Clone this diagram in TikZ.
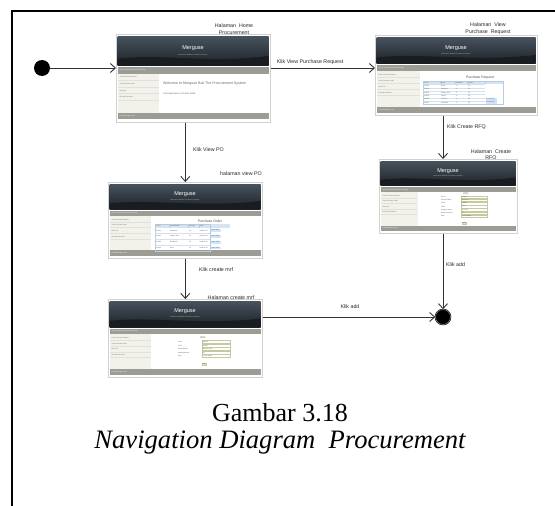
\documentclass[tikz,border=0pt]{standalone}
\usepackage{fontspec}
\setmainfont{Liberation Serif}
\newfontfamily\lsans{Liberation Sans}
\usetikzlibrary{arrows.meta}
\definecolor{hdrtop}{HTML}{46525D}
\definecolor{hdrbot}{HTML}{1D2227}
\definecolor{navc}{HTML}{9C9C94}
\definecolor{sidec}{HTML}{F2F2EA}
\definecolor{tblhdr}{HTML}{D6E4F2}
\definecolor{tblline}{HTML}{B8CCE0}
\definecolor{fieldc}{HTML}{C8C8A0}
\definecolor{btnc}{HTML}{E2E2C4}
\definecolor{linkc}{HTML}{2255AA}
\tikzset{
  lbl/.style={font=\lsans\fontsize{5.3}{6.5}\selectfont, text=black!85, inner sep=0},
  conn/.style={draw=black!80, line width=0.9pt, -{Straight Barb[length=5pt,width=9pt]}},
  scr/.style={draw=black!18, fill=white, inner sep=0, line width=0.6pt},
  tiny/.style={font=\lsans\fontsize{1.6}{2}\selectfont, inner sep=0, text=black!65},
  ttl/.style={font=\lsans\fontsize{3.4}{4}\selectfont, inner sep=0, text=black!70},
  fld/.style={draw=fieldc, fill=white, line width=0.25pt},
  lnk/.style={font=\lsans\fontsize{1.6}{2}\selectfont, inner sep=0, text=linkc},
}
\newcommand\scrn[5]{%
  \node[scr, minimum width=#4pt, minimum height=#5pt, anchor=north west] (#1) at (#2,#3) {};
  \begin{scope}[shift={(#2,#3)}]
    \shade[top color=hdrtop, bottom color=hdrbot] (1.5,{0.03*#5}) rectangle ({#4-1.5},{0.36*#5});
    \fill[hdrbot!85!black] (1.5,{0.36*#5}) -- (1.5,{0.28*#5}) .. controls ({0.3*#4},{0.22*#5}) and ({0.6*#4},{0.34*#5}) .. ({#4-1.5},{0.25*#5}) -- ({#4-1.5},{0.36*#5}) -- cycle;
    \node[font=\lsans\fontsize{5.5}{6}\selectfont, text=white, inner sep=0] (#1-title) at ({#4/2},{0.16*#5}) {Merguse};
    \node[tiny, text=white!75!black] (#1-sub) at ({#4/2},{0.235*#5}) {Welcome to Nadine Procurement System};
    \fill[navc] (1.5,{0.38*#5}) rectangle ({#4-1.5},{0.45*#5});
    \node[tiny, text=white, anchor=west] (#1-nav) at (3.5,{0.415*#5}) {Home | Log Out | Welcome, Shandy};
    \fill[sidec] (1.5,{0.45*#5}) rectangle ({0.28*#4},{0.90*#5});
    \foreach \mi [count=\kk] in {View Purchase Request,View Purchase Order,About Us,Change Password}{
      \node[tiny, text=black!60, anchor=west] (#1-m\kk) at (3.5,{(0.45+0.075*\kk-0.03)*#5}) {\mi};
      \draw[black!12, line width=0.3pt] (2,{(0.45+0.075*\kk)*#5}) -- ({0.28*#4-0.5},{(0.45+0.075*\kk)*#5});
    }
    \fill[navc] (1.5,{0.90*#5}) rectangle ({#4-1.5},{0.97*#5});
    \node[tiny, text=white, anchor=west] (#1-foot) at (3.5,{0.935*#5}) {\textcopyright{} 2008 Merguse.com};
  \end{scope}}
\begin{document}
\begin{tikzpicture}[x=1pt,y=-1pt]
\useasboundingbox (0,0) rectangle (555,506);
\draw[line width=1.6pt] (12,506) -- (12,11) -- (555,11);

% labels behind screens
\node[lbl, align=center] (l5) at (491,155) {Halaman\ \ Create\\RFQ};

% screen 1: home
\scrn{s1}{116}{34}{154}{88}
\begin{scope}[shift={(116,34)}]
  \node[tiny, font=\lsans\fontsize{3.6}{4}\selectfont, text=black!60, anchor=west] (s1-w) at (47,50) {Welcome to Merguse Bali The Procurement System};
  \node[tiny, font=\lsans\fontsize{2.3}{3}\selectfont, anchor=west] (s1-t) at (47,60) {Your login time is 21 June 2008};
\end{scope}

% screen 2: view purchase request
\scrn{s2}{375}{35}{162}{80}
\begin{scope}[shift={(375,35)}]
  \node[ttl] (s2-h) at (105,42.5) {Purchase Request};
  \fill[tblhdr] (48,46) rectangle (128,49.4);
  \draw[tblline, line width=0.3pt] (48,46) rectangle (128,69.2);
  \foreach \yy in {49.4,52.7,56,59.3,62.6,65.9} \draw[tblline!60, line width=0.2pt] (48,\yy) -- (110,\yy);
  \foreach \xx in {65,80,92,110} \draw[tblline, line width=0.2pt] (\xx,46) -- (\xx,49.4);
  \node[tiny, anchor=west] (s2-ha) at (49,47.7) {PR ID};
  \node[tiny, anchor=west] (s2-hb) at (66,47.7) {Name};
  \node[tiny, anchor=west] (s2-hc) at (81,47.7) {Available};
  \node[tiny, anchor=west] (s2-hd) at (93,47.7) {Needs};
  \foreach \va/\vb/\vc/\vd [count=\rr] in {PR001/Beefs/0/15,PR002/Porkland/0/30,PR003/Mango Juice/0/30,PR004/Lemon/0/20,PR005/Pizza 21/0/50,PR007/Chocolate/0/50}{
    \pgfmathsetmacro\yy{49.4+3.3*\rr-1.65}
    \node[tiny, anchor=west] (s2-a\rr) at (49,\yy) {\va};
    \node[tiny, anchor=west] (s2-b\rr) at (66,\yy) {\vb};
    \node[tiny, anchor=west] (s2-c\rr) at (81,\yy) {\vc};
    \node[tiny, anchor=west] (s2-d\rr) at (93,\yy) {\vd};
  }
  \fill[tblhdr] (110.5,63) rectangle (122,65.5);
  \fill[tblhdr] (110.5,66.3) rectangle (122,68.8);
  \node[lnk, anchor=west] (s2-k1) at (111,64.25) {Create RFQ};
  \node[lnk, anchor=west] (s2-k2) at (111,67.55) {Create RFQ};
\end{scope}

% screen 3: view PO
\node[lbl] (l8) at (241,174) {halaman view PO};
\scrn{s3}{108}{182}{154}{76}
\begin{scope}[shift={(108,182)}]
  \node[ttl] (s3-h) at (102,39.5) {Purchase Order};
  \fill[tblhdr] (47,42) rectangle (122,45.5);
  \draw[tblline, line width=0.3pt] (47,42) rectangle (102,69);
  \foreach \yy in {51.4,57.3,63.2} \draw[tblline!60, line width=0.2pt] (47,\yy) -- (102,\yy);
  \foreach \xx in {61,80,91,102} \draw[tblline, line width=0.2pt] (\xx,42) -- (\xx,45.5);
  \node[tiny, anchor=west] (s3-ha) at (48,43.75) {PO ID};
  \node[tiny, anchor=west] (s3-hb) at (62,43.75) {MaterialName};
  \node[tiny, anchor=west] (s3-hc) at (81,43.75) {Quantity};
  \node[tiny, anchor=west] (s3-hd) at (92,43.75) {Date};
  \foreach \va/\vb/\vc/\vd [count=\rr] in {PO001/Beefsteak/50/2008-06-21,PO002/Mango Juice/30/2008-06-21,PO003/Beefsteak/30/2008-06-21,PO004/Beer/10/2008-06-21}{
    \pgfmathsetmacro\yy{45.5+5.9*\rr-2.95}
    \node[tiny, anchor=west] (s3-a\rr) at (48,\yy) {\va};
    \node[tiny, anchor=west] (s3-b\rr) at (62,\yy) {\vb};
    \node[tiny, anchor=west] (s3-c\rr) at (81,\yy) {\vc};
    \node[tiny, anchor=west] (s3-d\rr) at (91.5,\yy) {\vd};
    \fill[tblhdr] (102.5,{\yy-1.3}) rectangle (113,{\yy+1.3});
    \node[lnk, anchor=west] (s3-k\rr) at (103,\yy) {create MRF};
  }
\end{scope}

% screen 4: create RFQ
\scrn{s4}{379}{159}{138}{74}
\begin{scope}[shift={(379,159)}]
  \node[tiny, font=\lsans\fontsize{2.4}{3}\selectfont] (s4-h) at (87,35) {RFQ};
  \foreach \la/\vl [count=\rr] in {Rfq Id/RFQ03,Material Name/Pizza 21,PR Id/PR005,Taste/Berry,Supplier Name/PT Cinta,Material Amount/50,Date/21-Jun-2008}{
    \pgfmathsetmacro\yy{38+3.2*(\rr-1)}
    \node[tiny, anchor=west] (s4-l\rr) at (62,\yy) {\la};
    \draw[fld] (82,{\yy-1.3}) rectangle (108,{\yy+1.3});
    \node[tiny, anchor=west] (s4-v\rr) at (82.7,\yy) {\vl};
  }
  \node[draw=fieldc, fill=btnc, tiny, inner sep=0.6pt, line width=0.25pt] (s4-btn) at (85,64) {Add};
\end{scope}

% screen 5: create mrf
\scrn{s5}{108}{299}{154}{78}
\begin{scope}[shift={(108,299)}]
  \node[tiny, font=\lsans\fontsize{2.4}{3}\selectfont] (s5-h) at (95,39) {MRF};
  \foreach \la/\vl [count=\rr] in {Mrf Id/MRF02,PO Id/PO001,MaterialName/Mangos Juice,MaterialAmount/50,Date/21-Jun-2008}{
    \pgfmathsetmacro\yy{43+3.5*(\rr-1)}
    \node[tiny, anchor=west] (s5-l\rr) at (70,\yy) {\la};
    \draw[fld] (94,{\yy-1.4}) rectangle (122,{\yy+1.4});
    \node[tiny, anchor=west] (s5-v\rr) at (94.7,\yy) {\vl};
  }
  \node[draw=fieldc, fill=btnc, tiny, inner sep=0.6pt, line width=0.25pt] (s5-btn) at (96,65) {Add};
\end{scope}

% start and end
\node[circle, fill=black, minimum size=16pt, inner sep=0] (start) at (42,68) {};
\node[circle, fill=black, draw=black, line width=0.5pt, double=black!45, double distance=0.5pt, minimum size=15pt, inner sep=0] (end) at (443,317) {};

% connectors
\draw[conn] (start) -- (s1.west |- start);
\draw[conn] (s1.east |- start) -- (s2.west |- start);
\draw[conn] (s1.south -| s3.north) -- (s3.north);
\draw[conn] (s3.south) -- (s5.north);
\draw[conn] (s2.south -| end) -- (s4.north -| end);
\draw[conn] (s4.south -| end) -- (end);
\draw[conn] (s5.east |- end) -- (end);

% labels
\node[lbl, align=center] (l1) at (234,29) {Halaman\ \ Home\\Procurement};
\node[lbl, align=center] (l2) at (488,28.5) {Halaman\ \ View\\Purchase\ \ Request};
\node[lbl] (l3) at (310,62) {Klik View Purchase Request};
\node[lbl, anchor=west] (l4) at (447,127) {Klik Create RFQ};
\node[lbl, anchor=west] (l6) at (446,265) {Klik add};
\node[lbl, anchor=west] (l7) at (193,150) {Klik View PO};
\node[lbl, anchor=west] (l9) at (199,270) {Klik create mrf};
\node[lbl] (l10) at (231,297.5) {Halaman create mrf};
\node[lbl] (l11) at (350,307) {Klik add};

% caption
\node[font=\fontsize{26}{30}\selectfont, anchor=base, inner sep=0] (cap1) at (280,421) {Gambar 3.18};
\node[font=\fontsize{26.6}{30}\selectfont\itshape, anchor=base, inner sep=0] (cap2) at (280,448) {Navigation Diagram\ \ Procurement};
\end{tikzpicture}
\end{document}
